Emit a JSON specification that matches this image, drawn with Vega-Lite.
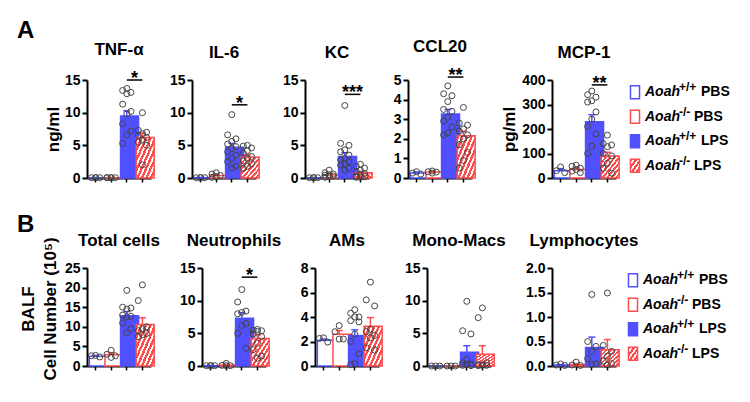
{
"$schema":"https://vega.github.io/schema/vega-lite/v6.json",
"padding":{"left":17,"top":19,"right":5,"bottom":5},
"config":{
 "font":"Liberation Sans",
 "view":{"stroke":null},
 "axis":{"grid":false,"domainColor":"black","domainWidth":2,"tickColor":"black","tickWidth":2,"tickSize":5,"labelFont":"Liberation Sans","labelFontSize":14,"labelFontWeight":"bold","labelColor":"black","labelPadding":2,"labelFlush":false,"titleFont":"Liberation Sans","titleFontSize":17,"titleFontWeight":"bold","titleColor":"black"},
 "axisX":{"labels":false,"tickSize":4,"tickWidth":1.5,"domainWidth":2},
 "title":{"font":"Liberation Sans","fontSize":17,"fontWeight":"bold","color":"black","offset":11}
},
"data":{"values":[
{"k":"leg","g":"WT PBS","gene":"Aoah","geno":"+/+","tr":"PBS"},
{"k":"leg","g":"KO PBS","gene":"Aoah","geno":"-/-","tr":"PBS"},
{"k":"leg","g":"WT LPS","gene":"Aoah","geno":"+/+","tr":"LPS"},
{"k":"leg","g":"KO LPS","gene":"Aoah","geno":"-/-","tr":"LPS"},
{"k":"sig","p":"TNF","g":"WT LPS","g2":"KO LPS","v":15,"s":"*"},
{"k":"sig","p":"IL6","g":"WT LPS","g2":"KO LPS","v":11.2,"s":"*"},
{"k":"sig","p":"KC","g":"WT LPS","g2":"KO LPS","v":12.8,"s":"***"},
{"k":"sig","p":"CCL20","g":"WT LPS","g2":"KO LPS","v":5.15,"s":"**"},
{"k":"sig","p":"MCP1","g":"WT LPS","g2":"KO LPS","v":380,"s":"**"},
{"k":"sig","p":"NEU","g":"WT LPS","g2":"KO LPS","v":13.6,"s":"*"},
{"k":"bar","p":"TNF","g":"WT PBS","v":0.05,"e":0.08},
{"k":"bar","p":"TNF","g":"KO PBS","v":0.05,"e":0.08},
{"k":"bar","p":"TNF","g":"WT LPS","v":9.5,"e":10.3},
{"k":"bar","p":"TNF","g":"KO LPS","v":6.2,"e":6.9},
{"k":"bar","p":"IL6","g":"WT PBS","v":0.05,"e":0.07},
{"k":"bar","p":"IL6","g":"KO PBS","v":0.4,"e":0.55},
{"k":"bar","p":"IL6","g":"WT LPS","v":4.7,"e":5.3},
{"k":"bar","p":"IL6","g":"KO LPS","v":3.2,"e":3.55},
{"k":"bar","p":"KC","g":"WT PBS","v":0.05,"e":0.07},
{"k":"bar","p":"KC","g":"KO PBS","v":0.45,"e":0.6},
{"k":"bar","p":"KC","g":"WT LPS","v":3.3,"e":3.85},
{"k":"bar","p":"KC","g":"KO LPS","v":0.8,"e":1.0},
{"k":"bar","p":"CCL20","g":"WT PBS","v":0.25,"e":0.3},
{"k":"bar","p":"CCL20","g":"KO PBS","v":0.3,"e":0.34},
{"k":"bar","p":"CCL20","g":"WT LPS","v":3.27,"e":3.5},
{"k":"bar","p":"CCL20","g":"KO LPS","v":2.15,"e":2.38},
{"k":"bar","p":"MCP1","g":"WT PBS","v":30,"e":38},
{"k":"bar","p":"MCP1","g":"KO PBS","v":35,"e":41},
{"k":"bar","p":"MCP1","g":"WT LPS","v":230,"e":258},
{"k":"bar","p":"MCP1","g":"KO LPS","v":90,"e":105},
{"k":"bar","p":"TOT","g":"WT PBS","v":2.5,"e":2.7},
{"k":"bar","p":"TOT","g":"KO PBS","v":2.9,"e":3.4},
{"k":"bar","p":"TOT","g":"WT LPS","v":12.8,"e":13.9},
{"k":"bar","p":"TOT","g":"KO LPS","v":10.6,"e":12.3},
{"k":"bar","p":"NEU","g":"WT PBS","v":0.05,"e":0.07},
{"k":"bar","p":"NEU","g":"KO PBS","v":0.15,"e":0.25},
{"k":"bar","p":"NEU","g":"WT LPS","v":7.3,"e":8.15},
{"k":"bar","p":"NEU","g":"KO LPS","v":4.2,"e":4.75},
{"k":"bar","p":"AM","g":"WT PBS","v":2.1,"e":2.2},
{"k":"bar","p":"AM","g":"KO PBS","v":2.6,"e":2.9},
{"k":"bar","p":"AM","g":"WT LPS","v":2.5,"e":2.95},
{"k":"bar","p":"AM","g":"KO LPS","v":3.25,"e":3.95},
{"k":"bar","p":"MONO","g":"WT PBS","v":0,"e":0},
{"k":"bar","p":"MONO","g":"KO PBS","v":0,"e":0},
{"k":"bar","p":"MONO","g":"WT LPS","v":2.1,"e":3.1},
{"k":"bar","p":"MONO","g":"KO LPS","v":1.8,"e":3.1},
{"k":"bar","p":"LYM","g":"WT PBS","v":0.02,"e":0.03},
{"k":"bar","p":"LYM","g":"KO PBS","v":0.03,"e":0.05},
{"k":"bar","p":"LYM","g":"WT LPS","v":0.38,"e":0.59},
{"k":"bar","p":"LYM","g":"KO LPS","v":0.33,"e":0.54},
{"k":"pt","p":"TNF","g":"WT PBS","v":0.05},{"k":"pt","p":"TNF","g":"WT PBS","v":0.05},{"k":"pt","p":"TNF","g":"WT PBS","v":0.05},{"k":"pt","p":"TNF","g":"WT PBS","v":0.05},
{"k":"pt","p":"TNF","g":"KO PBS","v":0.05},{"k":"pt","p":"TNF","g":"KO PBS","v":0.05},{"k":"pt","p":"TNF","g":"KO PBS","v":0.05},{"k":"pt","p":"TNF","g":"KO PBS","v":0.05},{"k":"pt","p":"TNF","g":"KO PBS","v":0.05},
{"k":"pt","p":"TNF","g":"WT LPS","v":13.7},{"k":"pt","p":"TNF","g":"WT LPS","v":13.4},{"k":"pt","p":"TNF","g":"WT LPS","v":13.1},{"k":"pt","p":"TNF","g":"WT LPS","v":12.9},{"k":"pt","p":"TNF","g":"WT LPS","v":11.3},{"k":"pt","p":"TNF","g":"WT LPS","v":10.2},{"k":"pt","p":"TNF","g":"WT LPS","v":9.8},{"k":"pt","p":"TNF","g":"WT LPS","v":8.3},{"k":"pt","p":"TNF","g":"WT LPS","v":7.2},{"k":"pt","p":"TNF","g":"WT LPS","v":6.6},{"k":"pt","p":"TNF","g":"WT LPS","v":5.3},
{"k":"pt","p":"TNF","g":"KO LPS","v":10.0},{"k":"pt","p":"TNF","g":"KO LPS","v":7.3},{"k":"pt","p":"TNF","g":"KO LPS","v":7.0},{"k":"pt","p":"TNF","g":"KO LPS","v":6.8},{"k":"pt","p":"TNF","g":"KO LPS","v":6.5},{"k":"pt","p":"TNF","g":"KO LPS","v":6.2},{"k":"pt","p":"TNF","g":"KO LPS","v":5.8},{"k":"pt","p":"TNF","g":"KO LPS","v":5.5},{"k":"pt","p":"TNF","g":"KO LPS","v":5.0},{"k":"pt","p":"TNF","g":"KO LPS","v":2.0},
{"k":"pt","p":"IL6","g":"WT PBS","v":0.05},{"k":"pt","p":"IL6","g":"WT PBS","v":0.05},{"k":"pt","p":"IL6","g":"WT PBS","v":0.05},{"k":"pt","p":"IL6","g":"WT PBS","v":0.05},
{"k":"pt","p":"IL6","g":"KO PBS","v":0.8},{"k":"pt","p":"IL6","g":"KO PBS","v":0.6},{"k":"pt","p":"IL6","g":"KO PBS","v":0.4},{"k":"pt","p":"IL6","g":"KO PBS","v":0.2},{"k":"pt","p":"IL6","g":"KO PBS","v":0.1},
{"k":"pt","p":"IL6","g":"WT LPS","v":9.7},{"k":"pt","p":"IL6","g":"WT LPS","v":6.6},{"k":"pt","p":"IL6","g":"WT LPS","v":6.0},{"k":"pt","p":"IL6","g":"WT LPS","v":5.6},{"k":"pt","p":"IL6","g":"WT LPS","v":5.2},{"k":"pt","p":"IL6","g":"WT LPS","v":4.8},{"k":"pt","p":"IL6","g":"WT LPS","v":4.5},{"k":"pt","p":"IL6","g":"WT LPS","v":4.0},{"k":"pt","p":"IL6","g":"WT LPS","v":3.5},{"k":"pt","p":"IL6","g":"WT LPS","v":3.0},{"k":"pt","p":"IL6","g":"WT LPS","v":2.5},{"k":"pt","p":"IL6","g":"WT LPS","v":1.8},{"k":"pt","p":"IL6","g":"WT LPS","v":1.5},
{"k":"pt","p":"IL6","g":"KO LPS","v":5.0},{"k":"pt","p":"IL6","g":"KO LPS","v":4.9},{"k":"pt","p":"IL6","g":"KO LPS","v":4.6},{"k":"pt","p":"IL6","g":"KO LPS","v":4.2},{"k":"pt","p":"IL6","g":"KO LPS","v":3.8},{"k":"pt","p":"IL6","g":"KO LPS","v":3.3},{"k":"pt","p":"IL6","g":"KO LPS","v":3.0},{"k":"pt","p":"IL6","g":"KO LPS","v":2.6},{"k":"pt","p":"IL6","g":"KO LPS","v":2.2},{"k":"pt","p":"IL6","g":"KO LPS","v":1.8},{"k":"pt","p":"IL6","g":"KO LPS","v":1.5},
{"k":"pt","p":"KC","g":"WT PBS","v":0.05},{"k":"pt","p":"KC","g":"WT PBS","v":0.05},{"k":"pt","p":"KC","g":"WT PBS","v":0.05},{"k":"pt","p":"KC","g":"WT PBS","v":0.05},
{"k":"pt","p":"KC","g":"KO PBS","v":1.2},{"k":"pt","p":"KC","g":"KO PBS","v":0.8},{"k":"pt","p":"KC","g":"KO PBS","v":0.6},{"k":"pt","p":"KC","g":"KO PBS","v":0.5},{"k":"pt","p":"KC","g":"KO PBS","v":0.4},{"k":"pt","p":"KC","g":"KO PBS","v":0.3},{"k":"pt","p":"KC","g":"KO PBS","v":0.2},{"k":"pt","p":"KC","g":"KO PBS","v":0.1},
{"k":"pt","p":"KC","g":"WT LPS","v":11.1},{"k":"pt","p":"KC","g":"WT LPS","v":5.3},{"k":"pt","p":"KC","g":"WT LPS","v":5.0},{"k":"pt","p":"KC","g":"WT LPS","v":4.3},{"k":"pt","p":"KC","g":"WT LPS","v":4.0},{"k":"pt","p":"KC","g":"WT LPS","v":3.5},{"k":"pt","p":"KC","g":"WT LPS","v":3.0},{"k":"pt","p":"KC","g":"WT LPS","v":2.8},{"k":"pt","p":"KC","g":"WT LPS","v":2.5},{"k":"pt","p":"KC","g":"WT LPS","v":2.2},{"k":"pt","p":"KC","g":"WT LPS","v":2.0},{"k":"pt","p":"KC","g":"WT LPS","v":1.5},{"k":"pt","p":"KC","g":"WT LPS","v":1.2},
{"k":"pt","p":"KC","g":"KO LPS","v":2.1},{"k":"pt","p":"KC","g":"KO LPS","v":1.8},{"k":"pt","p":"KC","g":"KO LPS","v":1.5},{"k":"pt","p":"KC","g":"KO LPS","v":1.2},{"k":"pt","p":"KC","g":"KO LPS","v":1.0},{"k":"pt","p":"KC","g":"KO LPS","v":0.7},{"k":"pt","p":"KC","g":"KO LPS","v":0.5},{"k":"pt","p":"KC","g":"KO LPS","v":0.3},{"k":"pt","p":"KC","g":"KO LPS","v":0.2},{"k":"pt","p":"KC","g":"KO LPS","v":0.1},{"k":"pt","p":"KC","g":"KO LPS","v":0.1},
{"k":"pt","p":"CCL20","g":"WT PBS","v":0.32},{"k":"pt","p":"CCL20","g":"WT PBS","v":0.25},{"k":"pt","p":"CCL20","g":"WT PBS","v":0.2},
{"k":"pt","p":"CCL20","g":"KO PBS","v":0.36},{"k":"pt","p":"CCL20","g":"KO PBS","v":0.32},{"k":"pt","p":"CCL20","g":"KO PBS","v":0.3},{"k":"pt","p":"CCL20","g":"KO PBS","v":0.25},
{"k":"pt","p":"CCL20","g":"WT LPS","v":4.7},{"k":"pt","p":"CCL20","g":"WT LPS","v":4.3},{"k":"pt","p":"CCL20","g":"WT LPS","v":4.2},{"k":"pt","p":"CCL20","g":"WT LPS","v":3.9},{"k":"pt","p":"CCL20","g":"WT LPS","v":3.5},{"k":"pt","p":"CCL20","g":"WT LPS","v":3.4},{"k":"pt","p":"CCL20","g":"WT LPS","v":3.1},{"k":"pt","p":"CCL20","g":"WT LPS","v":2.9},{"k":"pt","p":"CCL20","g":"WT LPS","v":2.6},{"k":"pt","p":"CCL20","g":"WT LPS","v":2.3},{"k":"pt","p":"CCL20","g":"WT LPS","v":2.2},
{"k":"pt","p":"CCL20","g":"KO LPS","v":3.6},{"k":"pt","p":"CCL20","g":"KO LPS","v":2.8},{"k":"pt","p":"CCL20","g":"KO LPS","v":2.7},{"k":"pt","p":"CCL20","g":"KO LPS","v":2.5},{"k":"pt","p":"CCL20","g":"KO LPS","v":2.4},{"k":"pt","p":"CCL20","g":"KO LPS","v":2.2},{"k":"pt","p":"CCL20","g":"KO LPS","v":2.0},{"k":"pt","p":"CCL20","g":"KO LPS","v":1.7},{"k":"pt","p":"CCL20","g":"KO LPS","v":1.3},{"k":"pt","p":"CCL20","g":"KO LPS","v":0.9},{"k":"pt","p":"CCL20","g":"KO LPS","v":0.5},
{"k":"pt","p":"MCP1","g":"WT PBS","v":45},{"k":"pt","p":"MCP1","g":"WT PBS","v":30},{"k":"pt","p":"MCP1","g":"WT PBS","v":22},
{"k":"pt","p":"MCP1","g":"KO PBS","v":52},{"k":"pt","p":"MCP1","g":"KO PBS","v":48},{"k":"pt","p":"MCP1","g":"KO PBS","v":40},{"k":"pt","p":"MCP1","g":"KO PBS","v":35},{"k":"pt","p":"MCP1","g":"KO PBS","v":28},{"k":"pt","p":"MCP1","g":"KO PBS","v":22},
{"k":"pt","p":"MCP1","g":"WT LPS","v":355},{"k":"pt","p":"MCP1","g":"WT LPS","v":340},{"k":"pt","p":"MCP1","g":"WT LPS","v":330},{"k":"pt","p":"MCP1","g":"WT LPS","v":315},{"k":"pt","p":"MCP1","g":"WT LPS","v":310},{"k":"pt","p":"MCP1","g":"WT LPS","v":270},{"k":"pt","p":"MCP1","g":"WT LPS","v":240},{"k":"pt","p":"MCP1","g":"WT LPS","v":210},{"k":"pt","p":"MCP1","g":"WT LPS","v":180},{"k":"pt","p":"MCP1","g":"WT LPS","v":130},{"k":"pt","p":"MCP1","g":"WT LPS","v":100},
{"k":"pt","p":"MCP1","g":"KO LPS","v":175},{"k":"pt","p":"MCP1","g":"KO LPS","v":140},{"k":"pt","p":"MCP1","g":"KO LPS","v":135},{"k":"pt","p":"MCP1","g":"KO LPS","v":128},{"k":"pt","p":"MCP1","g":"KO LPS","v":100},{"k":"pt","p":"MCP1","g":"KO LPS","v":90},{"k":"pt","p":"MCP1","g":"KO LPS","v":60},{"k":"pt","p":"MCP1","g":"KO LPS","v":40},{"k":"pt","p":"MCP1","g":"KO LPS","v":20},
{"k":"pt","p":"TOT","g":"WT PBS","v":2.7},{"k":"pt","p":"TOT","g":"WT PBS","v":2.6},{"k":"pt","p":"TOT","g":"WT PBS","v":2.3},
{"k":"pt","p":"TOT","g":"KO PBS","v":4.0},{"k":"pt","p":"TOT","g":"KO PBS","v":3.0},{"k":"pt","p":"TOT","g":"KO PBS","v":2.6},{"k":"pt","p":"TOT","g":"KO PBS","v":2.2},
{"k":"pt","p":"TOT","g":"WT LPS","v":19.3},{"k":"pt","p":"TOT","g":"WT LPS","v":15.0},{"k":"pt","p":"TOT","g":"WT LPS","v":14.8},{"k":"pt","p":"TOT","g":"WT LPS","v":14.5},{"k":"pt","p":"TOT","g":"WT LPS","v":13.0},{"k":"pt","p":"TOT","g":"WT LPS","v":12.7},{"k":"pt","p":"TOT","g":"WT LPS","v":12.5},{"k":"pt","p":"TOT","g":"WT LPS","v":11.0},{"k":"pt","p":"TOT","g":"WT LPS","v":9.5},{"k":"pt","p":"TOT","g":"WT LPS","v":8.5},
{"k":"pt","p":"TOT","g":"KO LPS","v":20.7},{"k":"pt","p":"TOT","g":"KO LPS","v":16.7},{"k":"pt","p":"TOT","g":"KO LPS","v":10.0},{"k":"pt","p":"TOT","g":"KO LPS","v":9.5},{"k":"pt","p":"TOT","g":"KO LPS","v":9.0},{"k":"pt","p":"TOT","g":"KO LPS","v":8.3},{"k":"pt","p":"TOT","g":"KO LPS","v":8.0},{"k":"pt","p":"TOT","g":"KO LPS","v":7.5},
{"k":"pt","p":"NEU","g":"WT PBS","v":0.05},{"k":"pt","p":"NEU","g":"WT PBS","v":0.05},{"k":"pt","p":"NEU","g":"WT PBS","v":0.05},{"k":"pt","p":"NEU","g":"WT PBS","v":0.05},
{"k":"pt","p":"NEU","g":"KO PBS","v":0.4},{"k":"pt","p":"NEU","g":"KO PBS","v":0.1},{"k":"pt","p":"NEU","g":"KO PBS","v":0.05},{"k":"pt","p":"NEU","g":"KO PBS","v":0.05},
{"k":"pt","p":"NEU","g":"WT LPS","v":11.7},{"k":"pt","p":"NEU","g":"WT LPS","v":9.8},{"k":"pt","p":"NEU","g":"WT LPS","v":8.4},{"k":"pt","p":"NEU","g":"WT LPS","v":8.2},{"k":"pt","p":"NEU","g":"WT LPS","v":8.0},{"k":"pt","p":"NEU","g":"WT LPS","v":6.5},{"k":"pt","p":"NEU","g":"WT LPS","v":6.2},{"k":"pt","p":"NEU","g":"WT LPS","v":5.0},{"k":"pt","p":"NEU","g":"WT LPS","v":2.7},
{"k":"pt","p":"NEU","g":"KO LPS","v":5.6},{"k":"pt","p":"NEU","g":"KO LPS","v":5.5},{"k":"pt","p":"NEU","g":"KO LPS","v":5.4},{"k":"pt","p":"NEU","g":"KO LPS","v":5.3},{"k":"pt","p":"NEU","g":"KO LPS","v":4.9},{"k":"pt","p":"NEU","g":"KO LPS","v":4.5},{"k":"pt","p":"NEU","g":"KO LPS","v":3.5},{"k":"pt","p":"NEU","g":"KO LPS","v":2.5},{"k":"pt","p":"NEU","g":"KO LPS","v":1.5},{"k":"pt","p":"NEU","g":"KO LPS","v":1.2},
{"k":"pt","p":"AM","g":"WT PBS","v":2.3},{"k":"pt","p":"AM","g":"WT PBS","v":2.25},{"k":"pt","p":"AM","g":"WT PBS","v":1.95},
{"k":"pt","p":"AM","g":"KO PBS","v":3.3},{"k":"pt","p":"AM","g":"KO PBS","v":2.8},{"k":"pt","p":"AM","g":"KO PBS","v":2.2},{"k":"pt","p":"AM","g":"KO PBS","v":2.2},
{"k":"pt","p":"AM","g":"WT LPS","v":4.6},{"k":"pt","p":"AM","g":"WT LPS","v":4.3},{"k":"pt","p":"AM","g":"WT LPS","v":4.0},{"k":"pt","p":"AM","g":"WT LPS","v":4.0},{"k":"pt","p":"AM","g":"WT LPS","v":3.7},{"k":"pt","p":"AM","g":"WT LPS","v":3.6},{"k":"pt","p":"AM","g":"WT LPS","v":2.6},{"k":"pt","p":"AM","g":"WT LPS","v":2.0},{"k":"pt","p":"AM","g":"WT LPS","v":1.0},{"k":"pt","p":"AM","g":"WT LPS","v":0.2},{"k":"pt","p":"AM","g":"WT LPS","v":0.1},
{"k":"pt","p":"AM","g":"KO LPS","v":6.85},{"k":"pt","p":"AM","g":"KO LPS","v":5.4},{"k":"pt","p":"AM","g":"KO LPS","v":4.9},{"k":"pt","p":"AM","g":"KO LPS","v":3.0},{"k":"pt","p":"AM","g":"KO LPS","v":2.8},{"k":"pt","p":"AM","g":"KO LPS","v":2.5},{"k":"pt","p":"AM","g":"KO LPS","v":2.3},{"k":"pt","p":"AM","g":"KO LPS","v":1.5},{"k":"pt","p":"AM","g":"KO LPS","v":1.3},
{"k":"pt","p":"MONO","g":"WT PBS","v":0},{"k":"pt","p":"MONO","g":"WT PBS","v":0},{"k":"pt","p":"MONO","g":"WT PBS","v":0},
{"k":"pt","p":"MONO","g":"KO PBS","v":0},{"k":"pt","p":"MONO","g":"KO PBS","v":0},{"k":"pt","p":"MONO","g":"KO PBS","v":0},
{"k":"pt","p":"MONO","g":"WT LPS","v":9.9},{"k":"pt","p":"MONO","g":"WT LPS","v":5.4},{"k":"pt","p":"MONO","g":"WT LPS","v":4.9},{"k":"pt","p":"MONO","g":"WT LPS","v":1.0},{"k":"pt","p":"MONO","g":"WT LPS","v":0.5},{"k":"pt","p":"MONO","g":"WT LPS","v":0.3},{"k":"pt","p":"MONO","g":"WT LPS","v":0.2},{"k":"pt","p":"MONO","g":"WT LPS","v":0.1},{"k":"pt","p":"MONO","g":"WT LPS","v":0.05},
{"k":"pt","p":"MONO","g":"KO LPS","v":8.9},{"k":"pt","p":"MONO","g":"KO LPS","v":7.4},{"k":"pt","p":"MONO","g":"KO LPS","v":0.5},{"k":"pt","p":"MONO","g":"KO LPS","v":0.2},{"k":"pt","p":"MONO","g":"KO LPS","v":0.2},{"k":"pt","p":"MONO","g":"KO LPS","v":0.1},{"k":"pt","p":"MONO","g":"KO LPS","v":0.1},{"k":"pt","p":"MONO","g":"KO LPS","v":0.05},
{"k":"pt","p":"LYM","g":"WT PBS","v":0.04},{"k":"pt","p":"LYM","g":"WT PBS","v":0.02},{"k":"pt","p":"LYM","g":"WT PBS","v":0.01},
{"k":"pt","p":"LYM","g":"KO PBS","v":0.08},{"k":"pt","p":"LYM","g":"KO PBS","v":0.02},{"k":"pt","p":"LYM","g":"KO PBS","v":0.01},
{"k":"pt","p":"LYM","g":"WT LPS","v":1.46},{"k":"pt","p":"LYM","g":"WT LPS","v":0.5},{"k":"pt","p":"LYM","g":"WT LPS","v":0.4},{"k":"pt","p":"LYM","g":"WT LPS","v":0.3},{"k":"pt","p":"LYM","g":"WT LPS","v":0.15},{"k":"pt","p":"LYM","g":"WT LPS","v":0.05},{"k":"pt","p":"LYM","g":"WT LPS","v":0.03},
{"k":"pt","p":"LYM","g":"KO LPS","v":1.49},{"k":"pt","p":"LYM","g":"KO LPS","v":0.42},{"k":"pt","p":"LYM","g":"KO LPS","v":0.3},{"k":"pt","p":"LYM","g":"KO LPS","v":0.2},{"k":"pt","p":"LYM","g":"KO LPS","v":0.1},{"k":"pt","p":"LYM","g":"KO LPS","v":0.05},{"k":"pt","p":"LYM","g":"KO LPS","v":0.02}
]},
"spacing":28,
"vconcat":[
{"title":{"text":"A","anchor":"start","frame":"group","fontSize":24,"dx":-43,"offset":-5},"bounds":"flush","spacing":0,"hconcat":[
{"width":27,"height":98,"data":{"values":[]},"mark":"point"},
{"width":64,"height":98,"title":"TNF-α","transform":[{"filter":"datum.p=='TNF'"}],
 "encoding":{"x":{"field":"g","type":"nominal","title":null,"scale":{"domain":["WT PBS","KO PBS","WT LPS","KO LPS"],"paddingInner":0.2,"paddingOuter":0.15}},
  "y":{"field":"v","type":"quantitative","title":"ng/ml","scale":{"domain":[0,15],"nice":false},"axis":{"values":[0,5,10,15],"titleX":-25}}},
 "layer":[
  {"transform":[{"filter":"datum.k=='bar' && (datum.g=='WT PBS' || datum.g=='KO PBS')"}],"mark":{"type":"bar","fill":"white","strokeWidth":1.5},"encoding":{"stroke":{"field":"g","type":"nominal","scale":{"domain":["WT PBS","KO PBS","WT LPS","KO LPS"],"range":["#5050ff","#ff4d4d","#5050ff","#ff4d4d"]},"legend":null}}},
  {"transform":[{"filter":"datum.k=='bar' && datum.g=='WT LPS'"}],"mark":{"type":"bar","fill":"#5050ff","stroke":"#5050ff","strokeWidth":1.5}},
  {"transform":[{"filter":"datum.k=='bar' && datum.g=='KO LPS'"}],"mark":{"type":"bar","stroke":"#ff4d4d","strokeWidth":1.5,"fill":{"gradient":"linear","x1":0,"y1":0,"x2":1,"y2":1,"stops":[{"offset":0,"color":"#ff4d4d"},{"offset":0.07,"color":"#ff4d4d"},{"offset":0.07,"color":"#fff"},{"offset":0.125,"color":"#fff"},{"offset":0.125,"color":"#ff4d4d"},{"offset":0.195,"color":"#ff4d4d"},{"offset":0.195,"color":"#fff"},{"offset":0.25,"color":"#fff"},{"offset":0.25,"color":"#ff4d4d"},{"offset":0.32,"color":"#ff4d4d"},{"offset":0.32,"color":"#fff"},{"offset":0.375,"color":"#fff"},{"offset":0.375,"color":"#ff4d4d"},{"offset":0.445,"color":"#ff4d4d"},{"offset":0.445,"color":"#fff"},{"offset":0.5,"color":"#fff"},{"offset":0.5,"color":"#ff4d4d"},{"offset":0.57,"color":"#ff4d4d"},{"offset":0.57,"color":"#fff"},{"offset":0.625,"color":"#fff"},{"offset":0.625,"color":"#ff4d4d"},{"offset":0.695,"color":"#ff4d4d"},{"offset":0.695,"color":"#fff"},{"offset":0.75,"color":"#fff"},{"offset":0.75,"color":"#ff4d4d"},{"offset":0.82,"color":"#ff4d4d"},{"offset":0.82,"color":"#fff"},{"offset":0.875,"color":"#fff"},{"offset":0.875,"color":"#ff4d4d"},{"offset":0.945,"color":"#ff4d4d"},{"offset":0.945,"color":"#fff"},{"offset":1,"color":"#fff"}]}}},
  {"transform":[{"filter":"datum.k=='bar'"}],"mark":{"type":"rule","strokeWidth":1.5},"encoding":{"y2":{"field":"e"},"stroke":{"field":"g","type":"nominal","scale":{"domain":["WT PBS","KO PBS","WT LPS","KO LPS"],"range":["#5050ff","#ff4d4d","#5050ff","#ff4d4d"]},"legend":null}}},
  {"transform":[{"filter":"datum.k=='bar'"}],"mark":{"type":"tick","thickness":1.5,"size":7,"opacity":1,"orient":"horizontal"},"encoding":{"y":{"field":"e","type":"quantitative","title":"ng/ml"},"color":{"field":"g","type":"nominal","scale":{"domain":["WT PBS","KO PBS","WT LPS","KO LPS"],"range":["#5050ff","#ff4d4d","#5050ff","#ff4d4d"]},"legend":null}}},
  {"transform":[{"filter":"datum.k=='pt'"},{"window":[{"op":"row_number","as":"rn"}],"groupby":["g"],"sort":[{"field":"v","order":"descending"}]},{"calculate":"datum.rn % 3","as":"slot"}],"mark":{"type":"point","shape":"circle","size":36,"filled":false,"stroke":"#444","strokeWidth":1,"opacity":1},"encoding":{"xOffset":{"field":"slot","type":"ordinal","scale":{"domain":[2,1,0]}}}},
  {"transform":[{"filter":"datum.k=='sig'"}],"mark":{"type":"rule","strokeWidth":1.5,"color":"black"},"encoding":{"x2":{"field":"g2"}}},
  {"transform":[{"filter":"datum.k=='sig'"}],"mark":{"type":"text","fontSize":18,"fontWeight":"bold","baseline":"alphabetic","dy":4,"color":"black"},"encoding":{"x":{"field":"g","type":"nominal","title":null,"bandPosition":1.125},"text":{"field":"s"}}}
 ]},
{"width":41,"height":98,"data":{"values":[]},"mark":"point"},
{"width":64,"height":98,"title":"IL-6","transform":[{"filter":"datum.p=='IL6'"}],
 "encoding":{"x":{"field":"g","type":"nominal","title":null,"scale":{"domain":["WT PBS","KO PBS","WT LPS","KO LPS"],"paddingInner":0.2,"paddingOuter":0.15}},
  "y":{"field":"v","type":"quantitative","title":null,"scale":{"domain":[0,15],"nice":false},"axis":{"values":[0,5,10,15]}}},
 "layer":[
  {"transform":[{"filter":"datum.k=='bar' && (datum.g=='WT PBS' || datum.g=='KO PBS')"}],"mark":{"type":"bar","fill":"white","strokeWidth":1.5},"encoding":{"stroke":{"field":"g","type":"nominal","scale":{"domain":["WT PBS","KO PBS","WT LPS","KO LPS"],"range":["#5050ff","#ff4d4d","#5050ff","#ff4d4d"]},"legend":null}}},
  {"transform":[{"filter":"datum.k=='bar' && datum.g=='WT LPS'"}],"mark":{"type":"bar","fill":"#5050ff","stroke":"#5050ff","strokeWidth":1.5}},
  {"transform":[{"filter":"datum.k=='bar' && datum.g=='KO LPS'"}],"mark":{"type":"bar","stroke":"#ff4d4d","strokeWidth":1.5,"fill":{"gradient":"linear","x1":0,"y1":0,"x2":1,"y2":1,"stops":[{"offset":0,"color":"#ff4d4d"},{"offset":0.07,"color":"#ff4d4d"},{"offset":0.07,"color":"#fff"},{"offset":0.125,"color":"#fff"},{"offset":0.125,"color":"#ff4d4d"},{"offset":0.195,"color":"#ff4d4d"},{"offset":0.195,"color":"#fff"},{"offset":0.25,"color":"#fff"},{"offset":0.25,"color":"#ff4d4d"},{"offset":0.32,"color":"#ff4d4d"},{"offset":0.32,"color":"#fff"},{"offset":0.375,"color":"#fff"},{"offset":0.375,"color":"#ff4d4d"},{"offset":0.445,"color":"#ff4d4d"},{"offset":0.445,"color":"#fff"},{"offset":0.5,"color":"#fff"},{"offset":0.5,"color":"#ff4d4d"},{"offset":0.57,"color":"#ff4d4d"},{"offset":0.57,"color":"#fff"},{"offset":0.625,"color":"#fff"},{"offset":0.625,"color":"#ff4d4d"},{"offset":0.695,"color":"#ff4d4d"},{"offset":0.695,"color":"#fff"},{"offset":0.75,"color":"#fff"},{"offset":0.75,"color":"#ff4d4d"},{"offset":0.82,"color":"#ff4d4d"},{"offset":0.82,"color":"#fff"},{"offset":0.875,"color":"#fff"},{"offset":0.875,"color":"#ff4d4d"},{"offset":0.945,"color":"#ff4d4d"},{"offset":0.945,"color":"#fff"},{"offset":1,"color":"#fff"}]}}},
  {"transform":[{"filter":"datum.k=='bar'"}],"mark":{"type":"rule","strokeWidth":1.5},"encoding":{"y2":{"field":"e"},"stroke":{"field":"g","type":"nominal","scale":{"domain":["WT PBS","KO PBS","WT LPS","KO LPS"],"range":["#5050ff","#ff4d4d","#5050ff","#ff4d4d"]},"legend":null}}},
  {"transform":[{"filter":"datum.k=='bar'"}],"mark":{"type":"tick","thickness":1.5,"size":7,"opacity":1,"orient":"horizontal"},"encoding":{"y":{"field":"e","type":"quantitative","title":null},"color":{"field":"g","type":"nominal","scale":{"domain":["WT PBS","KO PBS","WT LPS","KO LPS"],"range":["#5050ff","#ff4d4d","#5050ff","#ff4d4d"]},"legend":null}}},
  {"transform":[{"filter":"datum.k=='pt'"},{"window":[{"op":"row_number","as":"rn"}],"groupby":["g"],"sort":[{"field":"v","order":"descending"}]},{"calculate":"datum.rn % 3","as":"slot"}],"mark":{"type":"point","shape":"circle","size":36,"filled":false,"stroke":"#444","strokeWidth":1,"opacity":1},"encoding":{"xOffset":{"field":"slot","type":"ordinal","scale":{"domain":[2,1,0]}}}},
  {"transform":[{"filter":"datum.k=='sig'"}],"mark":{"type":"rule","strokeWidth":1.5,"color":"black"},"encoding":{"x2":{"field":"g2"}}},
  {"transform":[{"filter":"datum.k=='sig'"}],"mark":{"type":"text","fontSize":18,"fontWeight":"bold","baseline":"alphabetic","dy":4,"color":"black"},"encoding":{"x":{"field":"g","type":"nominal","title":null,"bandPosition":1.125},"text":{"field":"s"}}}
 ]},
{"width":49,"height":98,"data":{"values":[]},"mark":"point"},
{"width":64,"height":98,"title":"KC","transform":[{"filter":"datum.p=='KC'"}],
 "encoding":{"x":{"field":"g","type":"nominal","title":null,"scale":{"domain":["WT PBS","KO PBS","WT LPS","KO LPS"],"paddingInner":0.2,"paddingOuter":0.15}},
  "y":{"field":"v","type":"quantitative","title":null,"scale":{"domain":[0,15],"nice":false},"axis":{"values":[0,5,10,15]}}},
 "layer":[
  {"transform":[{"filter":"datum.k=='bar' && (datum.g=='WT PBS' || datum.g=='KO PBS')"}],"mark":{"type":"bar","fill":"white","strokeWidth":1.5},"encoding":{"stroke":{"field":"g","type":"nominal","scale":{"domain":["WT PBS","KO PBS","WT LPS","KO LPS"],"range":["#5050ff","#ff4d4d","#5050ff","#ff4d4d"]},"legend":null}}},
  {"transform":[{"filter":"datum.k=='bar' && datum.g=='WT LPS'"}],"mark":{"type":"bar","fill":"#5050ff","stroke":"#5050ff","strokeWidth":1.5}},
  {"transform":[{"filter":"datum.k=='bar' && datum.g=='KO LPS'"}],"mark":{"type":"bar","stroke":"#ff4d4d","strokeWidth":1.5,"fill":{"gradient":"linear","x1":0,"y1":0,"x2":1,"y2":1,"stops":[{"offset":0,"color":"#ff4d4d"},{"offset":0.07,"color":"#ff4d4d"},{"offset":0.07,"color":"#fff"},{"offset":0.125,"color":"#fff"},{"offset":0.125,"color":"#ff4d4d"},{"offset":0.195,"color":"#ff4d4d"},{"offset":0.195,"color":"#fff"},{"offset":0.25,"color":"#fff"},{"offset":0.25,"color":"#ff4d4d"},{"offset":0.32,"color":"#ff4d4d"},{"offset":0.32,"color":"#fff"},{"offset":0.375,"color":"#fff"},{"offset":0.375,"color":"#ff4d4d"},{"offset":0.445,"color":"#ff4d4d"},{"offset":0.445,"color":"#fff"},{"offset":0.5,"color":"#fff"},{"offset":0.5,"color":"#ff4d4d"},{"offset":0.57,"color":"#ff4d4d"},{"offset":0.57,"color":"#fff"},{"offset":0.625,"color":"#fff"},{"offset":0.625,"color":"#ff4d4d"},{"offset":0.695,"color":"#ff4d4d"},{"offset":0.695,"color":"#fff"},{"offset":0.75,"color":"#fff"},{"offset":0.75,"color":"#ff4d4d"},{"offset":0.82,"color":"#ff4d4d"},{"offset":0.82,"color":"#fff"},{"offset":0.875,"color":"#fff"},{"offset":0.875,"color":"#ff4d4d"},{"offset":0.945,"color":"#ff4d4d"},{"offset":0.945,"color":"#fff"},{"offset":1,"color":"#fff"}]}}},
  {"transform":[{"filter":"datum.k=='bar'"}],"mark":{"type":"rule","strokeWidth":1.5},"encoding":{"y2":{"field":"e"},"stroke":{"field":"g","type":"nominal","scale":{"domain":["WT PBS","KO PBS","WT LPS","KO LPS"],"range":["#5050ff","#ff4d4d","#5050ff","#ff4d4d"]},"legend":null}}},
  {"transform":[{"filter":"datum.k=='bar'"}],"mark":{"type":"tick","thickness":1.5,"size":7,"opacity":1,"orient":"horizontal"},"encoding":{"y":{"field":"e","type":"quantitative","title":null},"color":{"field":"g","type":"nominal","scale":{"domain":["WT PBS","KO PBS","WT LPS","KO LPS"],"range":["#5050ff","#ff4d4d","#5050ff","#ff4d4d"]},"legend":null}}},
  {"transform":[{"filter":"datum.k=='pt'"},{"window":[{"op":"row_number","as":"rn"}],"groupby":["g"],"sort":[{"field":"v","order":"descending"}]},{"calculate":"datum.rn % 3","as":"slot"}],"mark":{"type":"point","shape":"circle","size":36,"filled":false,"stroke":"#444","strokeWidth":1,"opacity":1},"encoding":{"xOffset":{"field":"slot","type":"ordinal","scale":{"domain":[2,1,0]}}}},
  {"transform":[{"filter":"datum.k=='sig'"}],"mark":{"type":"rule","strokeWidth":1.5,"color":"black"},"encoding":{"x2":{"field":"g2"}}},
  {"transform":[{"filter":"datum.k=='sig'"}],"mark":{"type":"text","fontSize":18,"fontWeight":"bold","baseline":"alphabetic","dy":4,"color":"black"},"encoding":{"x":{"field":"g","type":"nominal","title":null,"bandPosition":1.125},"text":{"field":"s"}}}
 ]},
{"width":39,"height":98,"data":{"values":[]},"mark":"point"},
{"width":64,"height":98,"title":"CCL20","transform":[{"filter":"datum.p=='CCL20'"}],
 "encoding":{"x":{"field":"g","type":"nominal","title":null,"scale":{"domain":["WT PBS","KO PBS","WT LPS","KO LPS"],"paddingInner":0.2,"paddingOuter":0.15}},
  "y":{"field":"v","type":"quantitative","title":null,"scale":{"domain":[0,5],"nice":false},"axis":{"values":[0,1,2,3,4,5]}}},
 "layer":[
  {"transform":[{"filter":"datum.k=='bar' && (datum.g=='WT PBS' || datum.g=='KO PBS')"}],"mark":{"type":"bar","fill":"white","strokeWidth":1.5},"encoding":{"stroke":{"field":"g","type":"nominal","scale":{"domain":["WT PBS","KO PBS","WT LPS","KO LPS"],"range":["#5050ff","#ff4d4d","#5050ff","#ff4d4d"]},"legend":null}}},
  {"transform":[{"filter":"datum.k=='bar' && datum.g=='WT LPS'"}],"mark":{"type":"bar","fill":"#5050ff","stroke":"#5050ff","strokeWidth":1.5}},
  {"transform":[{"filter":"datum.k=='bar' && datum.g=='KO LPS'"}],"mark":{"type":"bar","stroke":"#ff4d4d","strokeWidth":1.5,"fill":{"gradient":"linear","x1":0,"y1":0,"x2":1,"y2":1,"stops":[{"offset":0,"color":"#ff4d4d"},{"offset":0.07,"color":"#ff4d4d"},{"offset":0.07,"color":"#fff"},{"offset":0.125,"color":"#fff"},{"offset":0.125,"color":"#ff4d4d"},{"offset":0.195,"color":"#ff4d4d"},{"offset":0.195,"color":"#fff"},{"offset":0.25,"color":"#fff"},{"offset":0.25,"color":"#ff4d4d"},{"offset":0.32,"color":"#ff4d4d"},{"offset":0.32,"color":"#fff"},{"offset":0.375,"color":"#fff"},{"offset":0.375,"color":"#ff4d4d"},{"offset":0.445,"color":"#ff4d4d"},{"offset":0.445,"color":"#fff"},{"offset":0.5,"color":"#fff"},{"offset":0.5,"color":"#ff4d4d"},{"offset":0.57,"color":"#ff4d4d"},{"offset":0.57,"color":"#fff"},{"offset":0.625,"color":"#fff"},{"offset":0.625,"color":"#ff4d4d"},{"offset":0.695,"color":"#ff4d4d"},{"offset":0.695,"color":"#fff"},{"offset":0.75,"color":"#fff"},{"offset":0.75,"color":"#ff4d4d"},{"offset":0.82,"color":"#ff4d4d"},{"offset":0.82,"color":"#fff"},{"offset":0.875,"color":"#fff"},{"offset":0.875,"color":"#ff4d4d"},{"offset":0.945,"color":"#ff4d4d"},{"offset":0.945,"color":"#fff"},{"offset":1,"color":"#fff"}]}}},
  {"transform":[{"filter":"datum.k=='bar'"}],"mark":{"type":"rule","strokeWidth":1.5},"encoding":{"y2":{"field":"e"},"stroke":{"field":"g","type":"nominal","scale":{"domain":["WT PBS","KO PBS","WT LPS","KO LPS"],"range":["#5050ff","#ff4d4d","#5050ff","#ff4d4d"]},"legend":null}}},
  {"transform":[{"filter":"datum.k=='bar'"}],"mark":{"type":"tick","thickness":1.5,"size":7,"opacity":1,"orient":"horizontal"},"encoding":{"y":{"field":"e","type":"quantitative","title":null},"color":{"field":"g","type":"nominal","scale":{"domain":["WT PBS","KO PBS","WT LPS","KO LPS"],"range":["#5050ff","#ff4d4d","#5050ff","#ff4d4d"]},"legend":null}}},
  {"transform":[{"filter":"datum.k=='pt'"},{"window":[{"op":"row_number","as":"rn"}],"groupby":["g"],"sort":[{"field":"v","order":"descending"}]},{"calculate":"datum.rn % 3","as":"slot"}],"mark":{"type":"point","shape":"circle","size":36,"filled":false,"stroke":"#444","strokeWidth":1,"opacity":1},"encoding":{"xOffset":{"field":"slot","type":"ordinal","scale":{"domain":[2,1,0]}}}},
  {"transform":[{"filter":"datum.k=='sig'"}],"mark":{"type":"rule","strokeWidth":1.5,"color":"black"},"encoding":{"x2":{"field":"g2"}}},
  {"transform":[{"filter":"datum.k=='sig'"}],"mark":{"type":"text","fontSize":18,"fontWeight":"bold","baseline":"alphabetic","dy":4,"color":"black"},"encoding":{"x":{"field":"g","type":"nominal","title":null,"bandPosition":1.125},"text":{"field":"s"}}}
 ]},
{"width":80,"height":98,"data":{"values":[]},"mark":"point"},
{"width":64,"height":98,"title":"MCP-1","transform":[{"filter":"datum.p=='MCP1'"}],
 "encoding":{"x":{"field":"g","type":"nominal","title":null,"scale":{"domain":["WT PBS","KO PBS","WT LPS","KO LPS"],"paddingInner":0.2,"paddingOuter":0.15}},
  "y":{"field":"v","type":"quantitative","title":"pg/ml","scale":{"domain":[0,400],"nice":false},"axis":{"values":[0,100,200,300,400],"titleX":-34}}},
 "layer":[
  {"transform":[{"filter":"datum.k=='bar' && (datum.g=='WT PBS' || datum.g=='KO PBS')"}],"mark":{"type":"bar","fill":"white","strokeWidth":1.5},"encoding":{"stroke":{"field":"g","type":"nominal","scale":{"domain":["WT PBS","KO PBS","WT LPS","KO LPS"],"range":["#5050ff","#ff4d4d","#5050ff","#ff4d4d"]},"legend":null}}},
  {"transform":[{"filter":"datum.k=='bar' && datum.g=='WT LPS'"}],"mark":{"type":"bar","fill":"#5050ff","stroke":"#5050ff","strokeWidth":1.5}},
  {"transform":[{"filter":"datum.k=='bar' && datum.g=='KO LPS'"}],"mark":{"type":"bar","stroke":"#ff4d4d","strokeWidth":1.5,"fill":{"gradient":"linear","x1":0,"y1":0,"x2":1,"y2":1,"stops":[{"offset":0,"color":"#ff4d4d"},{"offset":0.07,"color":"#ff4d4d"},{"offset":0.07,"color":"#fff"},{"offset":0.125,"color":"#fff"},{"offset":0.125,"color":"#ff4d4d"},{"offset":0.195,"color":"#ff4d4d"},{"offset":0.195,"color":"#fff"},{"offset":0.25,"color":"#fff"},{"offset":0.25,"color":"#ff4d4d"},{"offset":0.32,"color":"#ff4d4d"},{"offset":0.32,"color":"#fff"},{"offset":0.375,"color":"#fff"},{"offset":0.375,"color":"#ff4d4d"},{"offset":0.445,"color":"#ff4d4d"},{"offset":0.445,"color":"#fff"},{"offset":0.5,"color":"#fff"},{"offset":0.5,"color":"#ff4d4d"},{"offset":0.57,"color":"#ff4d4d"},{"offset":0.57,"color":"#fff"},{"offset":0.625,"color":"#fff"},{"offset":0.625,"color":"#ff4d4d"},{"offset":0.695,"color":"#ff4d4d"},{"offset":0.695,"color":"#fff"},{"offset":0.75,"color":"#fff"},{"offset":0.75,"color":"#ff4d4d"},{"offset":0.82,"color":"#ff4d4d"},{"offset":0.82,"color":"#fff"},{"offset":0.875,"color":"#fff"},{"offset":0.875,"color":"#ff4d4d"},{"offset":0.945,"color":"#ff4d4d"},{"offset":0.945,"color":"#fff"},{"offset":1,"color":"#fff"}]}}},
  {"transform":[{"filter":"datum.k=='bar'"}],"mark":{"type":"rule","strokeWidth":1.5},"encoding":{"y2":{"field":"e"},"stroke":{"field":"g","type":"nominal","scale":{"domain":["WT PBS","KO PBS","WT LPS","KO LPS"],"range":["#5050ff","#ff4d4d","#5050ff","#ff4d4d"]},"legend":null}}},
  {"transform":[{"filter":"datum.k=='bar'"}],"mark":{"type":"tick","thickness":1.5,"size":7,"opacity":1,"orient":"horizontal"},"encoding":{"y":{"field":"e","type":"quantitative","title":"pg/ml"},"color":{"field":"g","type":"nominal","scale":{"domain":["WT PBS","KO PBS","WT LPS","KO LPS"],"range":["#5050ff","#ff4d4d","#5050ff","#ff4d4d"]},"legend":null}}},
  {"transform":[{"filter":"datum.k=='pt'"},{"window":[{"op":"row_number","as":"rn"}],"groupby":["g"],"sort":[{"field":"v","order":"descending"}]},{"calculate":"datum.rn % 3","as":"slot"}],"mark":{"type":"point","shape":"circle","size":36,"filled":false,"stroke":"#444","strokeWidth":1,"opacity":1},"encoding":{"xOffset":{"field":"slot","type":"ordinal","scale":{"domain":[2,1,0]}}}},
  {"transform":[{"filter":"datum.k=='sig'"}],"mark":{"type":"rule","strokeWidth":1.5,"color":"black"},"encoding":{"x2":{"field":"g2"}}},
  {"transform":[{"filter":"datum.k=='sig'"}],"mark":{"type":"text","fontSize":18,"fontWeight":"bold","baseline":"alphabetic","dy":4,"color":"black"},"encoding":{"x":{"field":"g","type":"nominal","title":null,"bandPosition":1.125},"text":{"field":"s"}}}
 ]},
{"width":38,"height":98,"transform":[{"filter":"datum.k=='leg'"}],
 "encoding":{"y":{"field":"g","type":"nominal","scale":{"domain":["WT PBS","KO PBS","WT LPS","KO LPS"],"paddingInner":0,"paddingOuter":0.16},"axis":null}},
 "layer":[
  {"transform":[{"filter":"datum.g=='WT PBS' || datum.g=='KO PBS'"}],"mark":{"type":"point","shape":"M-0.55,-0.8L0.55,-0.8L0.55,0.8L-0.55,0.8Z","size":270,"filled":true,"fill":"white","strokeWidth":1.5,"opacity":1},"encoding":{"stroke":{"field":"g","type":"nominal","scale":{"domain":["WT PBS","KO PBS","WT LPS","KO LPS"],"range":["#5050ff","#ff4d4d","#5050ff","#ff4d4d"]},"legend":null}}},
  {"transform":[{"filter":"datum.g=='WT LPS'"}],"mark":{"type":"point","shape":"M-0.55,-0.8L0.55,-0.8L0.55,0.8L-0.55,0.8Z","size":270,"filled":true,"fill":"#5050ff","stroke":"#5050ff","strokeWidth":1.5,"opacity":1}},
  {"transform":[{"filter":"datum.g=='KO LPS'"}],"mark":{"type":"point","shape":"M-0.55,-0.8L0.55,-0.8L0.55,0.8L-0.55,0.8Z","size":270,"filled":true,"stroke":"#ff4d4d","strokeWidth":1.5,"opacity":1,"fill":{"gradient":"linear","x1":0,"y1":0,"x2":1,"y2":1,"stops":[{"offset":0,"color":"#ff4d4d"},{"offset":0.14,"color":"#ff4d4d"},{"offset":0.14,"color":"#fff"},{"offset":0.25,"color":"#fff"},{"offset":0.25,"color":"#ff4d4d"},{"offset":0.39,"color":"#ff4d4d"},{"offset":0.39,"color":"#fff"},{"offset":0.5,"color":"#fff"},{"offset":0.5,"color":"#ff4d4d"},{"offset":0.64,"color":"#ff4d4d"},{"offset":0.64,"color":"#fff"},{"offset":0.75,"color":"#fff"},{"offset":0.75,"color":"#ff4d4d"},{"offset":0.89,"color":"#ff4d4d"},{"offset":0.89,"color":"#fff"},{"offset":1,"color":"#fff"}]}}},
  {"mark":{"type":"text","fontStyle":"italic","fontWeight":"bold","fontSize":14,"align":"left","baseline":"middle","dx":10,"color":"black"},"encoding":{"text":{"field":"gene"}}},
  {"mark":{"type":"text","fontWeight":"bold","fontSize":12,"align":"left","baseline":"middle","dx":44,"dy":-5,"color":"black"},"encoding":{"text":{"field":"geno"}}},
  {"transform":[{"filter":"datum.geno=='+/+'"}],"mark":{"type":"text","fontWeight":"bold","fontSize":14,"align":"left","baseline":"middle","dx":66,"color":"black"},"encoding":{"text":{"field":"tr"}}},
  {"transform":[{"filter":"datum.geno=='-/-'"}],"mark":{"type":"text","fontWeight":"bold","fontSize":14,"align":"left","baseline":"middle","dx":59,"color":"black"},"encoding":{"text":{"field":"tr"}}}
 ]}
]},
{"title":{"text":"B","anchor":"start","frame":"group","fontSize":24,"dx":-43,"offset":-5},"bounds":"flush","spacing":0,"hconcat":[
{"width":27,"height":82,"data":{"values":[]},"mark":"point","title":{"text":["BALF","Cell Number (10⁵)"],"orient":"left","anchor":"middle","frame":"group","lineHeight":22,"offset":0,"fontSize":17}},
{"width":64,"height":98,"title":"Total cells","transform":[{"filter":"datum.p=='TOT'"}],
 "encoding":{"x":{"field":"g","type":"nominal","title":null,"scale":{"domain":["WT PBS","KO PBS","WT LPS","KO LPS"],"paddingInner":0.2,"paddingOuter":0.15}},
  "y":{"field":"v","type":"quantitative","title":null,"scale":{"domain":[0,25],"nice":false},"axis":{"values":[0,5,10,15,20,25]}}},
 "layer":[
  {"transform":[{"filter":"datum.k=='bar' && (datum.g=='WT PBS' || datum.g=='KO PBS')"}],"mark":{"type":"bar","fill":"white","strokeWidth":1.5},"encoding":{"stroke":{"field":"g","type":"nominal","scale":{"domain":["WT PBS","KO PBS","WT LPS","KO LPS"],"range":["#5050ff","#ff4d4d","#5050ff","#ff4d4d"]},"legend":null}}},
  {"transform":[{"filter":"datum.k=='bar' && datum.g=='WT LPS'"}],"mark":{"type":"bar","fill":"#5050ff","stroke":"#5050ff","strokeWidth":1.5}},
  {"transform":[{"filter":"datum.k=='bar' && datum.g=='KO LPS'"}],"mark":{"type":"bar","stroke":"#ff4d4d","strokeWidth":1.5,"fill":{"gradient":"linear","x1":0,"y1":0,"x2":1,"y2":1,"stops":[{"offset":0,"color":"#ff4d4d"},{"offset":0.07,"color":"#ff4d4d"},{"offset":0.07,"color":"#fff"},{"offset":0.125,"color":"#fff"},{"offset":0.125,"color":"#ff4d4d"},{"offset":0.195,"color":"#ff4d4d"},{"offset":0.195,"color":"#fff"},{"offset":0.25,"color":"#fff"},{"offset":0.25,"color":"#ff4d4d"},{"offset":0.32,"color":"#ff4d4d"},{"offset":0.32,"color":"#fff"},{"offset":0.375,"color":"#fff"},{"offset":0.375,"color":"#ff4d4d"},{"offset":0.445,"color":"#ff4d4d"},{"offset":0.445,"color":"#fff"},{"offset":0.5,"color":"#fff"},{"offset":0.5,"color":"#ff4d4d"},{"offset":0.57,"color":"#ff4d4d"},{"offset":0.57,"color":"#fff"},{"offset":0.625,"color":"#fff"},{"offset":0.625,"color":"#ff4d4d"},{"offset":0.695,"color":"#ff4d4d"},{"offset":0.695,"color":"#fff"},{"offset":0.75,"color":"#fff"},{"offset":0.75,"color":"#ff4d4d"},{"offset":0.82,"color":"#ff4d4d"},{"offset":0.82,"color":"#fff"},{"offset":0.875,"color":"#fff"},{"offset":0.875,"color":"#ff4d4d"},{"offset":0.945,"color":"#ff4d4d"},{"offset":0.945,"color":"#fff"},{"offset":1,"color":"#fff"}]}}},
  {"transform":[{"filter":"datum.k=='bar'"}],"mark":{"type":"rule","strokeWidth":1.5},"encoding":{"y2":{"field":"e"},"stroke":{"field":"g","type":"nominal","scale":{"domain":["WT PBS","KO PBS","WT LPS","KO LPS"],"range":["#5050ff","#ff4d4d","#5050ff","#ff4d4d"]},"legend":null}}},
  {"transform":[{"filter":"datum.k=='bar'"}],"mark":{"type":"tick","thickness":1.5,"size":7,"opacity":1,"orient":"horizontal"},"encoding":{"y":{"field":"e","type":"quantitative","title":null},"color":{"field":"g","type":"nominal","scale":{"domain":["WT PBS","KO PBS","WT LPS","KO LPS"],"range":["#5050ff","#ff4d4d","#5050ff","#ff4d4d"]},"legend":null}}},
  {"transform":[{"filter":"datum.k=='pt'"},{"window":[{"op":"row_number","as":"rn"}],"groupby":["g"],"sort":[{"field":"v","order":"descending"}]},{"calculate":"datum.rn % 3","as":"slot"}],"mark":{"type":"point","shape":"circle","size":36,"filled":false,"stroke":"#444","strokeWidth":1,"opacity":1},"encoding":{"xOffset":{"field":"slot","type":"ordinal","scale":{"domain":[2,1,0]}}}},
  {"transform":[{"filter":"datum.k=='sig'"}],"mark":{"type":"rule","strokeWidth":1.5,"color":"black"},"encoding":{"x2":{"field":"g2"}}},
  {"transform":[{"filter":"datum.k=='sig'"}],"mark":{"type":"text","fontSize":18,"fontWeight":"bold","baseline":"alphabetic","dy":4,"color":"black"},"encoding":{"x":{"field":"g","type":"nominal","title":null,"bandPosition":1.125},"text":{"field":"s"}}}
 ]},
{"width":51,"height":98,"data":{"values":[]},"mark":"point"},
{"width":64,"height":98,"title":"Neutrophils","transform":[{"filter":"datum.p=='NEU'"}],
 "encoding":{"x":{"field":"g","type":"nominal","title":null,"scale":{"domain":["WT PBS","KO PBS","WT LPS","KO LPS"],"paddingInner":0.2,"paddingOuter":0.15}},
  "y":{"field":"v","type":"quantitative","title":null,"scale":{"domain":[0,15],"nice":false},"axis":{"values":[0,5,10,15]}}},
 "layer":[
  {"transform":[{"filter":"datum.k=='bar' && (datum.g=='WT PBS' || datum.g=='KO PBS')"}],"mark":{"type":"bar","fill":"white","strokeWidth":1.5},"encoding":{"stroke":{"field":"g","type":"nominal","scale":{"domain":["WT PBS","KO PBS","WT LPS","KO LPS"],"range":["#5050ff","#ff4d4d","#5050ff","#ff4d4d"]},"legend":null}}},
  {"transform":[{"filter":"datum.k=='bar' && datum.g=='WT LPS'"}],"mark":{"type":"bar","fill":"#5050ff","stroke":"#5050ff","strokeWidth":1.5}},
  {"transform":[{"filter":"datum.k=='bar' && datum.g=='KO LPS'"}],"mark":{"type":"bar","stroke":"#ff4d4d","strokeWidth":1.5,"fill":{"gradient":"linear","x1":0,"y1":0,"x2":1,"y2":1,"stops":[{"offset":0,"color":"#ff4d4d"},{"offset":0.07,"color":"#ff4d4d"},{"offset":0.07,"color":"#fff"},{"offset":0.125,"color":"#fff"},{"offset":0.125,"color":"#ff4d4d"},{"offset":0.195,"color":"#ff4d4d"},{"offset":0.195,"color":"#fff"},{"offset":0.25,"color":"#fff"},{"offset":0.25,"color":"#ff4d4d"},{"offset":0.32,"color":"#ff4d4d"},{"offset":0.32,"color":"#fff"},{"offset":0.375,"color":"#fff"},{"offset":0.375,"color":"#ff4d4d"},{"offset":0.445,"color":"#ff4d4d"},{"offset":0.445,"color":"#fff"},{"offset":0.5,"color":"#fff"},{"offset":0.5,"color":"#ff4d4d"},{"offset":0.57,"color":"#ff4d4d"},{"offset":0.57,"color":"#fff"},{"offset":0.625,"color":"#fff"},{"offset":0.625,"color":"#ff4d4d"},{"offset":0.695,"color":"#ff4d4d"},{"offset":0.695,"color":"#fff"},{"offset":0.75,"color":"#fff"},{"offset":0.75,"color":"#ff4d4d"},{"offset":0.82,"color":"#ff4d4d"},{"offset":0.82,"color":"#fff"},{"offset":0.875,"color":"#fff"},{"offset":0.875,"color":"#ff4d4d"},{"offset":0.945,"color":"#ff4d4d"},{"offset":0.945,"color":"#fff"},{"offset":1,"color":"#fff"}]}}},
  {"transform":[{"filter":"datum.k=='bar'"}],"mark":{"type":"rule","strokeWidth":1.5},"encoding":{"y2":{"field":"e"},"stroke":{"field":"g","type":"nominal","scale":{"domain":["WT PBS","KO PBS","WT LPS","KO LPS"],"range":["#5050ff","#ff4d4d","#5050ff","#ff4d4d"]},"legend":null}}},
  {"transform":[{"filter":"datum.k=='bar'"}],"mark":{"type":"tick","thickness":1.5,"size":7,"opacity":1,"orient":"horizontal"},"encoding":{"y":{"field":"e","type":"quantitative","title":null},"color":{"field":"g","type":"nominal","scale":{"domain":["WT PBS","KO PBS","WT LPS","KO LPS"],"range":["#5050ff","#ff4d4d","#5050ff","#ff4d4d"]},"legend":null}}},
  {"transform":[{"filter":"datum.k=='pt'"},{"window":[{"op":"row_number","as":"rn"}],"groupby":["g"],"sort":[{"field":"v","order":"descending"}]},{"calculate":"datum.rn % 3","as":"slot"}],"mark":{"type":"point","shape":"circle","size":36,"filled":false,"stroke":"#444","strokeWidth":1,"opacity":1},"encoding":{"xOffset":{"field":"slot","type":"ordinal","scale":{"domain":[2,1,0]}}}},
  {"transform":[{"filter":"datum.k=='sig'"}],"mark":{"type":"rule","strokeWidth":1.5,"color":"black"},"encoding":{"x2":{"field":"g2"}}},
  {"transform":[{"filter":"datum.k=='sig'"}],"mark":{"type":"text","fontSize":18,"fontWeight":"bold","baseline":"alphabetic","dy":4,"color":"black"},"encoding":{"x":{"field":"g","type":"nominal","title":null,"bandPosition":1.125},"text":{"field":"s"}}}
 ]},
{"width":49,"height":98,"data":{"values":[]},"mark":"point"},
{"width":64,"height":98,"title":"AMs","transform":[{"filter":"datum.p=='AM'"}],
 "encoding":{"x":{"field":"g","type":"nominal","title":null,"scale":{"domain":["WT PBS","KO PBS","WT LPS","KO LPS"],"paddingInner":0.2,"paddingOuter":0.15}},
  "y":{"field":"v","type":"quantitative","title":null,"scale":{"domain":[0,8],"nice":false},"axis":{"values":[0,2,4,6,8]}}},
 "layer":[
  {"transform":[{"filter":"datum.k=='bar' && (datum.g=='WT PBS' || datum.g=='KO PBS')"}],"mark":{"type":"bar","fill":"white","strokeWidth":1.5},"encoding":{"stroke":{"field":"g","type":"nominal","scale":{"domain":["WT PBS","KO PBS","WT LPS","KO LPS"],"range":["#5050ff","#ff4d4d","#5050ff","#ff4d4d"]},"legend":null}}},
  {"transform":[{"filter":"datum.k=='bar' && datum.g=='WT LPS'"}],"mark":{"type":"bar","fill":"#5050ff","stroke":"#5050ff","strokeWidth":1.5}},
  {"transform":[{"filter":"datum.k=='bar' && datum.g=='KO LPS'"}],"mark":{"type":"bar","stroke":"#ff4d4d","strokeWidth":1.5,"fill":{"gradient":"linear","x1":0,"y1":0,"x2":1,"y2":1,"stops":[{"offset":0,"color":"#ff4d4d"},{"offset":0.07,"color":"#ff4d4d"},{"offset":0.07,"color":"#fff"},{"offset":0.125,"color":"#fff"},{"offset":0.125,"color":"#ff4d4d"},{"offset":0.195,"color":"#ff4d4d"},{"offset":0.195,"color":"#fff"},{"offset":0.25,"color":"#fff"},{"offset":0.25,"color":"#ff4d4d"},{"offset":0.32,"color":"#ff4d4d"},{"offset":0.32,"color":"#fff"},{"offset":0.375,"color":"#fff"},{"offset":0.375,"color":"#ff4d4d"},{"offset":0.445,"color":"#ff4d4d"},{"offset":0.445,"color":"#fff"},{"offset":0.5,"color":"#fff"},{"offset":0.5,"color":"#ff4d4d"},{"offset":0.57,"color":"#ff4d4d"},{"offset":0.57,"color":"#fff"},{"offset":0.625,"color":"#fff"},{"offset":0.625,"color":"#ff4d4d"},{"offset":0.695,"color":"#ff4d4d"},{"offset":0.695,"color":"#fff"},{"offset":0.75,"color":"#fff"},{"offset":0.75,"color":"#ff4d4d"},{"offset":0.82,"color":"#ff4d4d"},{"offset":0.82,"color":"#fff"},{"offset":0.875,"color":"#fff"},{"offset":0.875,"color":"#ff4d4d"},{"offset":0.945,"color":"#ff4d4d"},{"offset":0.945,"color":"#fff"},{"offset":1,"color":"#fff"}]}}},
  {"transform":[{"filter":"datum.k=='bar'"}],"mark":{"type":"rule","strokeWidth":1.5},"encoding":{"y2":{"field":"e"},"stroke":{"field":"g","type":"nominal","scale":{"domain":["WT PBS","KO PBS","WT LPS","KO LPS"],"range":["#5050ff","#ff4d4d","#5050ff","#ff4d4d"]},"legend":null}}},
  {"transform":[{"filter":"datum.k=='bar'"}],"mark":{"type":"tick","thickness":1.5,"size":7,"opacity":1,"orient":"horizontal"},"encoding":{"y":{"field":"e","type":"quantitative","title":null},"color":{"field":"g","type":"nominal","scale":{"domain":["WT PBS","KO PBS","WT LPS","KO LPS"],"range":["#5050ff","#ff4d4d","#5050ff","#ff4d4d"]},"legend":null}}},
  {"transform":[{"filter":"datum.k=='pt'"},{"window":[{"op":"row_number","as":"rn"}],"groupby":["g"],"sort":[{"field":"v","order":"descending"}]},{"calculate":"datum.rn % 3","as":"slot"}],"mark":{"type":"point","shape":"circle","size":36,"filled":false,"stroke":"#444","strokeWidth":1,"opacity":1},"encoding":{"xOffset":{"field":"slot","type":"ordinal","scale":{"domain":[2,1,0]}}}},
  {"transform":[{"filter":"datum.k=='sig'"}],"mark":{"type":"rule","strokeWidth":1.5,"color":"black"},"encoding":{"x2":{"field":"g2"}}},
  {"transform":[{"filter":"datum.k=='sig'"}],"mark":{"type":"text","fontSize":18,"fontWeight":"bold","baseline":"alphabetic","dy":4,"color":"black"},"encoding":{"x":{"field":"g","type":"nominal","title":null,"bandPosition":1.125},"text":{"field":"s"}}}
 ]},
{"width":48,"height":98,"data":{"values":[]},"mark":"point"},
{"width":64,"height":98,"title":"Mono-Macs","transform":[{"filter":"datum.p=='MONO'"}],
 "encoding":{"x":{"field":"g","type":"nominal","title":null,"scale":{"domain":["WT PBS","KO PBS","WT LPS","KO LPS"],"paddingInner":0.2,"paddingOuter":0.15}},
  "y":{"field":"v","type":"quantitative","title":null,"scale":{"domain":[0,15],"nice":false},"axis":{"values":[0,5,10,15]}}},
 "layer":[
  {"transform":[{"filter":"datum.k=='bar' && (datum.g=='WT PBS' || datum.g=='KO PBS')"}],"mark":{"type":"bar","fill":"white","strokeWidth":1.5},"encoding":{"stroke":{"field":"g","type":"nominal","scale":{"domain":["WT PBS","KO PBS","WT LPS","KO LPS"],"range":["#5050ff","#ff4d4d","#5050ff","#ff4d4d"]},"legend":null}}},
  {"transform":[{"filter":"datum.k=='bar' && datum.g=='WT LPS'"}],"mark":{"type":"bar","fill":"#5050ff","stroke":"#5050ff","strokeWidth":1.5}},
  {"transform":[{"filter":"datum.k=='bar' && datum.g=='KO LPS'"}],"mark":{"type":"bar","stroke":"#ff4d4d","strokeWidth":1.5,"fill":{"gradient":"linear","x1":0,"y1":0,"x2":1,"y2":1,"stops":[{"offset":0,"color":"#ff4d4d"},{"offset":0.07,"color":"#ff4d4d"},{"offset":0.07,"color":"#fff"},{"offset":0.125,"color":"#fff"},{"offset":0.125,"color":"#ff4d4d"},{"offset":0.195,"color":"#ff4d4d"},{"offset":0.195,"color":"#fff"},{"offset":0.25,"color":"#fff"},{"offset":0.25,"color":"#ff4d4d"},{"offset":0.32,"color":"#ff4d4d"},{"offset":0.32,"color":"#fff"},{"offset":0.375,"color":"#fff"},{"offset":0.375,"color":"#ff4d4d"},{"offset":0.445,"color":"#ff4d4d"},{"offset":0.445,"color":"#fff"},{"offset":0.5,"color":"#fff"},{"offset":0.5,"color":"#ff4d4d"},{"offset":0.57,"color":"#ff4d4d"},{"offset":0.57,"color":"#fff"},{"offset":0.625,"color":"#fff"},{"offset":0.625,"color":"#ff4d4d"},{"offset":0.695,"color":"#ff4d4d"},{"offset":0.695,"color":"#fff"},{"offset":0.75,"color":"#fff"},{"offset":0.75,"color":"#ff4d4d"},{"offset":0.82,"color":"#ff4d4d"},{"offset":0.82,"color":"#fff"},{"offset":0.875,"color":"#fff"},{"offset":0.875,"color":"#ff4d4d"},{"offset":0.945,"color":"#ff4d4d"},{"offset":0.945,"color":"#fff"},{"offset":1,"color":"#fff"}]}}},
  {"transform":[{"filter":"datum.k=='bar'"}],"mark":{"type":"rule","strokeWidth":1.5},"encoding":{"y2":{"field":"e"},"stroke":{"field":"g","type":"nominal","scale":{"domain":["WT PBS","KO PBS","WT LPS","KO LPS"],"range":["#5050ff","#ff4d4d","#5050ff","#ff4d4d"]},"legend":null}}},
  {"transform":[{"filter":"datum.k=='bar'"}],"mark":{"type":"tick","thickness":1.5,"size":7,"opacity":1,"orient":"horizontal"},"encoding":{"y":{"field":"e","type":"quantitative","title":null},"color":{"field":"g","type":"nominal","scale":{"domain":["WT PBS","KO PBS","WT LPS","KO LPS"],"range":["#5050ff","#ff4d4d","#5050ff","#ff4d4d"]},"legend":null}}},
  {"transform":[{"filter":"datum.k=='pt'"},{"window":[{"op":"row_number","as":"rn"}],"groupby":["g"],"sort":[{"field":"v","order":"descending"}]},{"calculate":"datum.rn % 3","as":"slot"}],"mark":{"type":"point","shape":"circle","size":36,"filled":false,"stroke":"#444","strokeWidth":1,"opacity":1},"encoding":{"xOffset":{"field":"slot","type":"ordinal","scale":{"domain":[2,1,0]}}}},
  {"transform":[{"filter":"datum.k=='sig'"}],"mark":{"type":"rule","strokeWidth":1.5,"color":"black"},"encoding":{"x2":{"field":"g2"}}},
  {"transform":[{"filter":"datum.k=='sig'"}],"mark":{"type":"text","fontSize":18,"fontWeight":"bold","baseline":"alphabetic","dy":4,"color":"black"},"encoding":{"x":{"field":"g","type":"nominal","title":null,"bandPosition":1.125},"text":{"field":"s"}}}
 ]},
{"width":61,"height":98,"data":{"values":[]},"mark":"point"},
{"width":64,"height":98,"title":"Lymphocytes","transform":[{"filter":"datum.p=='LYM'"}],
 "encoding":{"x":{"field":"g","type":"nominal","title":null,"scale":{"domain":["WT PBS","KO PBS","WT LPS","KO LPS"],"paddingInner":0.2,"paddingOuter":0.15}},
  "y":{"field":"v","type":"quantitative","title":null,"scale":{"domain":[0,2],"nice":false},"axis":{"values":[0,0.5,1,1.5,2],"format":".1f"}}},
 "layer":[
  {"transform":[{"filter":"datum.k=='bar' && (datum.g=='WT PBS' || datum.g=='KO PBS')"}],"mark":{"type":"bar","fill":"white","strokeWidth":1.5},"encoding":{"stroke":{"field":"g","type":"nominal","scale":{"domain":["WT PBS","KO PBS","WT LPS","KO LPS"],"range":["#5050ff","#ff4d4d","#5050ff","#ff4d4d"]},"legend":null}}},
  {"transform":[{"filter":"datum.k=='bar' && datum.g=='WT LPS'"}],"mark":{"type":"bar","fill":"#5050ff","stroke":"#5050ff","strokeWidth":1.5}},
  {"transform":[{"filter":"datum.k=='bar' && datum.g=='KO LPS'"}],"mark":{"type":"bar","stroke":"#ff4d4d","strokeWidth":1.5,"fill":{"gradient":"linear","x1":0,"y1":0,"x2":1,"y2":1,"stops":[{"offset":0,"color":"#ff4d4d"},{"offset":0.07,"color":"#ff4d4d"},{"offset":0.07,"color":"#fff"},{"offset":0.125,"color":"#fff"},{"offset":0.125,"color":"#ff4d4d"},{"offset":0.195,"color":"#ff4d4d"},{"offset":0.195,"color":"#fff"},{"offset":0.25,"color":"#fff"},{"offset":0.25,"color":"#ff4d4d"},{"offset":0.32,"color":"#ff4d4d"},{"offset":0.32,"color":"#fff"},{"offset":0.375,"color":"#fff"},{"offset":0.375,"color":"#ff4d4d"},{"offset":0.445,"color":"#ff4d4d"},{"offset":0.445,"color":"#fff"},{"offset":0.5,"color":"#fff"},{"offset":0.5,"color":"#ff4d4d"},{"offset":0.57,"color":"#ff4d4d"},{"offset":0.57,"color":"#fff"},{"offset":0.625,"color":"#fff"},{"offset":0.625,"color":"#ff4d4d"},{"offset":0.695,"color":"#ff4d4d"},{"offset":0.695,"color":"#fff"},{"offset":0.75,"color":"#fff"},{"offset":0.75,"color":"#ff4d4d"},{"offset":0.82,"color":"#ff4d4d"},{"offset":0.82,"color":"#fff"},{"offset":0.875,"color":"#fff"},{"offset":0.875,"color":"#ff4d4d"},{"offset":0.945,"color":"#ff4d4d"},{"offset":0.945,"color":"#fff"},{"offset":1,"color":"#fff"}]}}},
  {"transform":[{"filter":"datum.k=='bar'"}],"mark":{"type":"rule","strokeWidth":1.5},"encoding":{"y2":{"field":"e"},"stroke":{"field":"g","type":"nominal","scale":{"domain":["WT PBS","KO PBS","WT LPS","KO LPS"],"range":["#5050ff","#ff4d4d","#5050ff","#ff4d4d"]},"legend":null}}},
  {"transform":[{"filter":"datum.k=='bar'"}],"mark":{"type":"tick","thickness":1.5,"size":7,"opacity":1,"orient":"horizontal"},"encoding":{"y":{"field":"e","type":"quantitative","title":null},"color":{"field":"g","type":"nominal","scale":{"domain":["WT PBS","KO PBS","WT LPS","KO LPS"],"range":["#5050ff","#ff4d4d","#5050ff","#ff4d4d"]},"legend":null}}},
  {"transform":[{"filter":"datum.k=='pt'"},{"window":[{"op":"row_number","as":"rn"}],"groupby":["g"],"sort":[{"field":"v","order":"descending"}]},{"calculate":"datum.rn % 3","as":"slot"}],"mark":{"type":"point","shape":"circle","size":36,"filled":false,"stroke":"#444","strokeWidth":1,"opacity":1},"encoding":{"xOffset":{"field":"slot","type":"ordinal","scale":{"domain":[2,1,0]}}}},
  {"transform":[{"filter":"datum.k=='sig'"}],"mark":{"type":"rule","strokeWidth":1.5,"color":"black"},"encoding":{"x2":{"field":"g2"}}},
  {"transform":[{"filter":"datum.k=='sig'"}],"mark":{"type":"text","fontSize":18,"fontWeight":"bold","baseline":"alphabetic","dy":4,"color":"black"},"encoding":{"x":{"field":"g","type":"nominal","title":null,"bandPosition":1.125},"text":{"field":"s"}}}
 ]},
{"width":34,"height":98,"transform":[{"filter":"datum.k=='leg'"}],
 "encoding":{"y":{"field":"g","type":"nominal","scale":{"domain":["WT PBS","KO PBS","WT LPS","KO LPS"],"paddingInner":0,"paddingOuter":0.16},"axis":null}},
 "layer":[
  {"transform":[{"filter":"datum.g=='WT PBS' || datum.g=='KO PBS'"}],"mark":{"type":"point","shape":"M-0.55,-0.8L0.55,-0.8L0.55,0.8L-0.55,0.8Z","size":270,"filled":true,"fill":"white","strokeWidth":1.5,"opacity":1},"encoding":{"stroke":{"field":"g","type":"nominal","scale":{"domain":["WT PBS","KO PBS","WT LPS","KO LPS"],"range":["#5050ff","#ff4d4d","#5050ff","#ff4d4d"]},"legend":null}}},
  {"transform":[{"filter":"datum.g=='WT LPS'"}],"mark":{"type":"point","shape":"M-0.55,-0.8L0.55,-0.8L0.55,0.8L-0.55,0.8Z","size":270,"filled":true,"fill":"#5050ff","stroke":"#5050ff","strokeWidth":1.5,"opacity":1}},
  {"transform":[{"filter":"datum.g=='KO LPS'"}],"mark":{"type":"point","shape":"M-0.55,-0.8L0.55,-0.8L0.55,0.8L-0.55,0.8Z","size":270,"filled":true,"stroke":"#ff4d4d","strokeWidth":1.5,"opacity":1,"fill":{"gradient":"linear","x1":0,"y1":0,"x2":1,"y2":1,"stops":[{"offset":0,"color":"#ff4d4d"},{"offset":0.14,"color":"#ff4d4d"},{"offset":0.14,"color":"#fff"},{"offset":0.25,"color":"#fff"},{"offset":0.25,"color":"#ff4d4d"},{"offset":0.39,"color":"#ff4d4d"},{"offset":0.39,"color":"#fff"},{"offset":0.5,"color":"#fff"},{"offset":0.5,"color":"#ff4d4d"},{"offset":0.64,"color":"#ff4d4d"},{"offset":0.64,"color":"#fff"},{"offset":0.75,"color":"#fff"},{"offset":0.75,"color":"#ff4d4d"},{"offset":0.89,"color":"#ff4d4d"},{"offset":0.89,"color":"#fff"},{"offset":1,"color":"#fff"}]}}},
  {"mark":{"type":"text","fontStyle":"italic","fontWeight":"bold","fontSize":14,"align":"left","baseline":"middle","dx":10,"color":"black"},"encoding":{"text":{"field":"gene"}}},
  {"mark":{"type":"text","fontWeight":"bold","fontSize":12,"align":"left","baseline":"middle","dx":44,"dy":-5,"color":"black"},"encoding":{"text":{"field":"geno"}}},
  {"transform":[{"filter":"datum.geno=='+/+'"}],"mark":{"type":"text","fontWeight":"bold","fontSize":14,"align":"left","baseline":"middle","dx":66,"color":"black"},"encoding":{"text":{"field":"tr"}}},
  {"transform":[{"filter":"datum.geno=='-/-'"}],"mark":{"type":"text","fontWeight":"bold","fontSize":14,"align":"left","baseline":"middle","dx":59,"color":"black"},"encoding":{"text":{"field":"tr"}}}
 ]}
]}
]
}
